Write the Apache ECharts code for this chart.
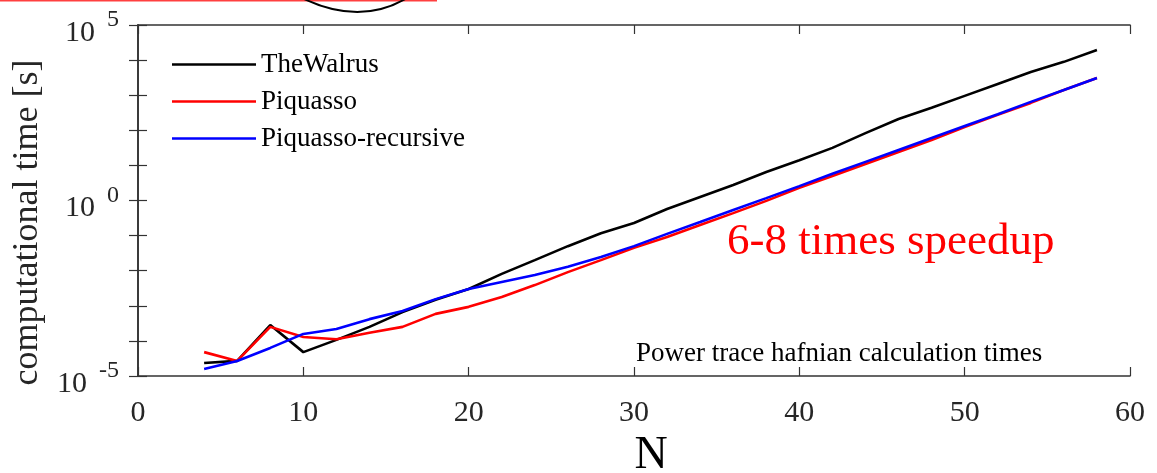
<!DOCTYPE html>
<html>
<head>
<meta charset="utf-8">
<script src="https://cdn.jsdelivr.net/npm/echarts@6/dist/echarts.min.js"></script>
<style>
  html, body { margin: 0; padding: 0; background: #fff; }
  #chart { width: 1157px; height: 473px; }
</style>
</head>
<body>
<div id="chart"></div>
<script>
// matrix size N
const sizesN = [4, 6, 8, 10, 12, 14, 16, 18, 20, 22, 24, 26, 28, 30,
  32, 34, 36, 38, 40, 42, 44, 46, 48, 50, 52, 54, 56, 58];
// seconds
const walrusTimes = [2.34e-5, 2.69e-5, 2.82e-4, 4.79e-5, 1.07e-4, 2.51e-4, 6.6e-4, 1.48e-3,
  3.0e-3, 8.1e-3, 2.0e-2, 5.0e-2, 0.117, 0.229, 0.575, 1.26, 2.75, 6.46, 14.1, 31.6,
  83, 209, 437, 955, 2090, 4570, 8910, 19500];
const piquassoTimes = [4.79e-5, 2.69e-5, 2.51e-4, 1.29e-4, 1.12e-4, 1.70e-4, 2.51e-4, 5.89e-4,
  9.33e-4, 1.78e-3, 3.89e-3, 9.12e-3, 2.0e-2, 4.47e-2, 9.12e-2, 0.2, 0.437, 0.977, 2.29, 5.01,
  11.0, 24.0, 52.5, 123, 275, 603, 1410, 3090];
const recursiveTimes = [1.58e-5, 2.69e-5, 6.31e-5, 1.58e-4, 2.19e-4, 4.17e-4, 7.08e-4, 1.55e-3,
  3.02e-3, 4.79e-3, 7.59e-3, 1.29e-2, 2.45e-2, 5.01e-2, 0.112, 0.245, 0.537, 1.17, 2.57, 5.75,
  12.6, 27.5, 60.3, 132, 288, 646, 1410, 3090];
const seriesNames = ["TheWalrus", "Piquasso", "Piquasso-recursive"];
const labeledExponents = [-5, 0, 5];

const serif = "'Liberation Serif', 'Times New Roman', serif";
const axisColor = "#333";

const myChart = echarts.init(document.getElementById("chart"), null, { renderer: "canvas" });

function pairs(values) {
  return sizesN.map((n, i) => [n, values[i]]);
}

function logLabel(value) {
  const exp = Math.round(Math.log10(value));
  if (labeledExponents.indexOf(exp) < 0) return "";
  return "{b|10}{e|" + exp + "}";
}

const boxAxisLine = { show: true, lineStyle: { color: axisColor, width: 1.6 } };
const boxTick = { show: true, inside: true, length: 9, lineStyle: { color: axisColor, width: 1.2 } };

myChart.setOption({
  animation: false,
  backgroundColor: "#fff",
  grid: { left: 138, right: 27, top: 25, bottom: 97, containLabel: false, outerBoundsMode: "none" },
  legend: {
    orient: "vertical",
    left: 167,
    top: 46,
    itemWidth: 84,
    itemHeight: 14,
    itemGap: 10,
    icon: "path://M0,5.7L84,5.7L84,8.3L0,8.3Z",
    data: seriesNames,
    textStyle: { fontFamily: serif, fontSize: 27, color: "#000", lineHeight: 27 }
  },
  xAxis: [
    {
      type: "value",
      min: 0,
      max: 60,
      interval: 10,
      name: "N",
      nameLocation: "middle",
      nameGap: 52,
      nameTextStyle: { fontFamily: serif, fontSize: 46, color: "#000", padding: [0, 0, 0, 34] },
      axisLine: boxAxisLine,
      axisTick: boxTick,
      splitLine: { show: false },
      axisLabel: { fontFamily: serif, fontSize: 30, color: "#262626", margin: 22 }
    },
    {
      type: "value",
      position: "top",
      min: 0,
      max: 60,
      interval: 10,
      axisLine: boxAxisLine,
      axisTick: boxTick,
      splitLine: { show: false },
      axisLabel: { show: false }
    }
  ],
  yAxis: [
    {
      type: "log",
      logBase: 10,
      min: 1e-5,
      max: 1e5,
      interval: 1,
      name: "computational time [s]",
      nameLocation: "middle",
      nameRotate: 90,
      nameGap: 92,
      nameTextStyle: { fontFamily: serif, fontSize: 36, color: "#262626", padding: [0, 44, 0, 0] },
      axisLine: boxAxisLine,
      axisTick: boxTick,
      splitLine: { show: false },
      axisLabel: {
        margin: 19,
        padding: [6, 0, 0, 0],
        formatter: logLabel,
        rich: {
          b: { fontFamily: serif, fontSize: 30, color: "#262626", lineHeight: 40, verticalAlign: "bottom" },
          e: { fontFamily: serif, fontSize: 24, color: "#262626", lineHeight: 18, verticalAlign: "top", padding: [0, 0, 0, 12] }
        }
      }
    },
    {
      type: "log",
      logBase: 10,
      position: "right",
      min: 1e-5,
      max: 1e5,
      interval: 1,
      axisLine: boxAxisLine,
      axisTick: boxTick,
      splitLine: { show: false },
      axisLabel: { show: false }
    }
  ],
  series: [
    {
      name: seriesNames[0],
      type: "line",
      symbol: "none",
      color: "#000000",
      lineStyle: { width: 2.6, color: "#000000" },
      data: pairs(walrusTimes)
    },
    {
      name: seriesNames[1],
      type: "line",
      symbol: "none",
      color: "#ff0000",
      lineStyle: { width: 2.6, color: "#ff0000" },
      data: pairs(piquassoTimes)
    },
    {
      name: seriesNames[2],
      type: "line",
      symbol: "none",
      color: "#0000ff",
      lineStyle: { width: 2.6, color: "#0000ff" },
      data: pairs(recursiveTimes)
    }
  ],
  graphic: [
    // bits of the figure above that were cut off
    { type: "line", shape: { x1: 0, y1: 0.5, x2: 437, y2: 0.5 }, style: { stroke: "#ff4040", lineWidth: 2 } },
    { type: "bezierCurve", shape: { x1: 302, y1: -2, cpx1: 360, cpy1: 26, x2: 407, y2: -2 }, style: { stroke: "#000", lineWidth: 2, fill: null } },
    {
      type: "text", left: 727, top: 220,
      style: { text: "6-8 times speedup", fontFamily: serif, fontSize: 45, fill: "#ff0000" }
    },
    {
      type: "text", left: 636, top: 340,
      style: { text: "Power trace hafnian calculation times", fontFamily: serif, fontSize: 27, fill: "#000" }
    }
  ]
});
</script>
</body>
</html>
